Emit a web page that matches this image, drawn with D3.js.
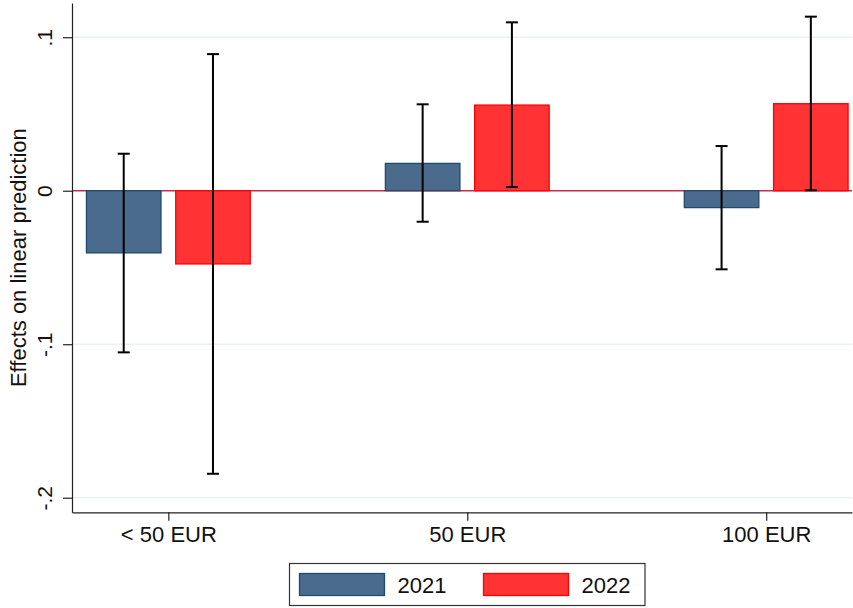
<!DOCTYPE html>
<html>
<head>
<meta charset="utf-8">
<script src="https://cdn.jsdelivr.net/npm/d3@7"></script>
<style>
  html, body { margin: 0; padding: 0; background: #fff; }
  svg { display: block; font-family: "Liberation Sans", Arial, Helvetica, sans-serif; }
</style>
</head>
<body>
<svg id="chart" width="853" height="608"></svg>
<script>
// ---- data ----
const categories = ["< 50 EUR", "50 EUR", "100 EUR"];
const seriesNames = ["2021", "2022"];
const values2021 = [-0.0405, 0.0178, -0.0110];
const lower2021  = [-0.1053, -0.0202, -0.0512];
const upper2021  = [0.0241, 0.0563, 0.0291];
const values2022 = [-0.0477, 0.0558, 0.0567];
const lower2022  = [-0.1844, 0.0024, 0.0003];
const upper2022  = [0.0890, 0.1097, 0.1134];
const yTickValues = [0.1, 0, -0.1, -0.2];
const yTickLabels = [".1", "0", "-.1", "-.2"];
const yTitle = "Effects on linear prediction";

// ---- layout / style ----
const W = 853, H = 608;
const plot = { left: 72, right: 852, top: 3, bottom: 512.3 };
const colors = {
  fill: ["#4a6b8b", "#ff3333"],
  stroke: ["#1f4a70", "#ff0000"],
  grid: "#eaf1f2",
  zero: "#cc2a4e",
  axis: "#222"
};
const barOffset = [-0.1493, 0.1493]; // in group units
const barWidth = 0.2493;             // in group units

const svg = d3.select("#chart");

const x = d3.scaleLinear().domain([-0.3223, 2.287]).range([plot.left, plot.right]);
const y = d3.scaleLinear().domain([-0.2095, 0.1223]).range([plot.bottom, plot.top]);

// gridlines
svg.append("g").selectAll("line").data(yTickValues.filter(v => v !== 0)).join("line")
  .attr("x1", plot.left).attr("x2", plot.right)
  .attr("y1", d => y(d)).attr("y2", d => y(d))
  .attr("stroke", colors.grid).attr("stroke-width", 1.6);

// zero reference line
svg.append("line")
  .attr("x1", plot.left).attr("x2", plot.right)
  .attr("y1", y(0)).attr("y2", y(0))
  .attr("stroke", colors.zero).attr("stroke-width", 1.4);

// bars
const series = [
  { name: seriesNames[0], vals: values2021, lo: lower2021, hi: upper2021 },
  { name: seriesNames[1], vals: values2022, lo: lower2022, hi: upper2022 }
];
const px = x(1) - x(0);
series.forEach((s, si) => {
  const g = svg.append("g");
  g.selectAll("rect").data(s.vals).join("rect")
    .attr("x", (d, i) => x(i + barOffset[si]) - barWidth * px / 2)
    .attr("width", barWidth * px)
    .attr("y", d => y(Math.max(0, d)))
    .attr("height", d => Math.abs(y(d) - y(0)))
    .attr("fill", colors.fill[si])
    .attr("stroke", colors.stroke[si])
    .attr("stroke-width", 1.3);
});

// error bars
series.forEach((s, si) => {
  const g = svg.append("g").attr("stroke", "#000").attr("stroke-width", 2);
  s.vals.forEach((v, i) => {
    const cx = x(i + barOffset[si]);
    g.append("line").attr("x1", cx).attr("x2", cx).attr("y1", y(s.lo[i])).attr("y2", y(s.hi[i]));
    g.append("line").attr("x1", cx - 6).attr("x2", cx + 6).attr("y1", y(s.lo[i])).attr("y2", y(s.lo[i]));
    g.append("line").attr("x1", cx - 6).attr("x2", cx + 6).attr("y1", y(s.hi[i])).attr("y2", y(s.hi[i]));
  });
});

// y axis
const yAxis = d3.axisLeft(y).tickValues(yTickValues)
  .tickFormat((d, i) => yTickLabels[i]).tickSize(9).tickSizeOuter(0);
const gy = svg.append("g").attr("transform", `translate(${plot.left},0)`).call(yAxis);
gy.select(".domain").attr("stroke", colors.axis).attr("stroke-width", 1.2);
gy.selectAll(".tick line").attr("stroke", colors.axis).attr("stroke-width", 1.2);
gy.selectAll(".tick text")
  .attr("transform", "rotate(-90)")
  .attr("x", 0).attr("y", -20.5).attr("dy", 0)
  .attr("text-anchor", "middle")
  .attr("font-size", 21).attr("fill", "#111")
  .style("font-family", "'Liberation Sans', Arial, sans-serif");

// x axis
const xAxis = d3.axisBottom(x).tickValues(categories.map((c, i) => i))
  .tickFormat((d, i) => categories[i]).tickSize(8.5).tickSizeOuter(0);
const gx = svg.append("g").attr("transform", `translate(0,${plot.bottom})`).call(xAxis);
gx.select(".domain").attr("stroke", colors.axis).attr("stroke-width", 1.2);
gx.selectAll(".tick line").attr("stroke", colors.axis).attr("stroke-width", 1.2);
gx.selectAll(".tick text")
  .attr("y", 30).attr("dy", 0)
  .attr("font-size", 22).attr("fill", "#111")
  .style("font-family", "'Liberation Sans', Arial, sans-serif");

// y title
svg.append("text")
  .attr("transform", `translate(26,${(plot.top + plot.bottom) / 2}) rotate(-90)`)
  .attr("text-anchor", "middle")
  .attr("font-size", 22).attr("fill", "#111")
  .text(yTitle);

// legend
const leg = svg.append("g");
leg.append("rect").attr("x", 289.5).attr("y", 563.5).attr("width", 355.5).attr("height", 42)
  .attr("fill", "#fff").attr("stroke", "#333").attr("stroke-width", 1.2);
const legX = [299.5, 483.5];
seriesNames.forEach((n, i) => {
  leg.append("rect").attr("x", legX[i]).attr("y", 573.5).attr("width", 85).attr("height", 22)
    .attr("fill", colors.fill[i]).attr("stroke", colors.stroke[i]).attr("stroke-width", 1.3);
  leg.append("text").attr("x", legX[i] + 98).attr("y", 592.7)
    .attr("font-size", 22).attr("fill", "#111").text(n);
});
</script>
</body>
</html>
